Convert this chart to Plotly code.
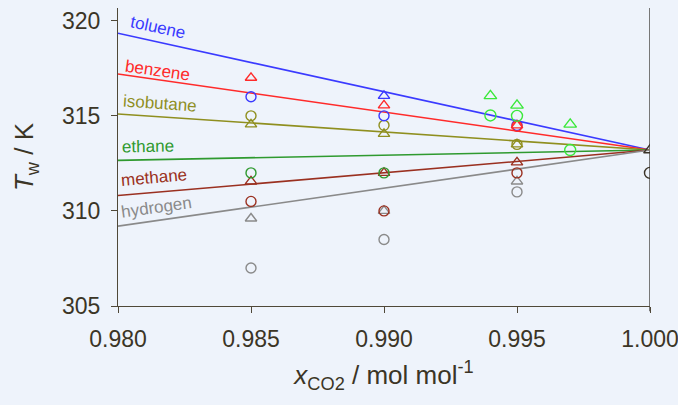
import plotly.graph_objects as go

# ---------------- data ----------------
gases = ["toluene", "benzene", "isobutane", "ethane", "methane", "hydrogen"]
line_colors = ["#3a3aff", "#ff2a2a", "#8f8f1f", "#2f9a2f", "#9a3020", "#8a8a8a"]
line_x = [0.980, 1.000]
line_start = [319.34, 317.2, 315.1, 312.66, 310.81, 309.2]
line_end = [313.2, 313.2, 313.2, 313.2, 313.2, 313.2]

# label positions (data coords) and rotation
label_x = [0.98150, 0.98147, 0.98156, 0.98112, 0.98137, 0.98143]
label_y = [319.62, 317.41, 315.63, 313.40, 311.75, 310.18]
label_angle = [12, 8, 4, -1, -5, -8]

# circle measurements per gas
circ_x = {
    "toluene": [0.985, 0.990, 0.995],
    "benzene": [0.995],
    "isobutane": [0.985, 0.990, 0.995],
    "ethane": [0.985, 0.990],
    "methane": [0.985, 0.990, 0.995],
    "hydrogen": [0.985, 0.990, 0.995],
}
circ_y = {
    "toluene": [316.0, 315.0, 314.5],
    "benzene": [314.45],
    "isobutane": [315.0, 314.5, 313.5],
    "ethane": [312.0, 312.0],
    "methane": [310.5, 310.0, 312.0],
    "hydrogen": [307.0, 308.5, 311.0],
}
# triangle measurements per gas
tri_x = {
    "toluene": [0.990],
    "benzene": [0.985, 0.990, 0.995],
    "isobutane": [0.985, 0.990, 0.995],
    "ethane": [],
    "methane": [0.985, 0.990, 0.995],
    "hydrogen": [0.985, 0.990, 0.995],
}
tri_y = {
    "toluene": [316.05],
    "benzene": [317.0, 315.55, 314.5],
    "isobutane": [314.55, 314.05, 313.5],
    "ethane": [],
    "methane": [311.55, 312.0, 312.55],
    "hydrogen": [309.6, 310.0, 311.55],
}
# additional (lime) data set
lime_circ_x = [0.994, 0.995, 0.997]
lime_circ_y = [315.02, 315.0, 313.2]
lime_tri_x = [0.994, 0.995, 0.997]
lime_tri_y = [316.05, 315.55, 314.55]
lime_color = "#3ae83a"

# pure CO2
pure_x = [1.000]
pure_circ_y = [312.0]
pure_tri_y = [313.2]
pure_color = "#3a3328"

x_ticks = [0.980, 0.985, 0.990, 0.995, 1.000]
x_tick_text = ["0.980", "0.985", "0.990", "0.995", "1.000"]
y_ticks = [305, 310, 315, 320]
x_range = [0.980, 1.000]
y_range = [305, 320.67]

# ---------------- figure ----------------
fig = go.Figure()
bg = "#eef3fb"
axis_col = "#3b3526"
line_col = "#4f4838"
font_fam = "Liberation Sans, Arial, sans-serif"

for g, c, y0, y1 in zip(gases, line_colors, line_start, line_end):
    fig.add_trace(go.Scatter(x=line_x, y=[y0, y1], mode="lines",
                             line=dict(color=c, width=1.6), hoverinfo="skip"))

msize = 10
mw = 1.4
order = ["hydrogen", "methane", "ethane", "isobutane", "toluene", "benzene"]
for g in order:
    c = line_colors[gases.index(g)]
    if circ_x[g]:
        fig.add_trace(go.Scatter(x=circ_x[g], y=circ_y[g], mode="markers",
                                 marker=dict(symbol="circle-open", size=msize,
                                             line=dict(color=c, width=mw), color=c)))
    if tri_x[g]:
        fig.add_trace(go.Scatter(x=tri_x[g], y=tri_y[g], mode="markers",
                                 marker=dict(symbol="triangle-up-open", size=msize,
                                             line=dict(color=c, width=mw), color=c)))

fig.add_trace(go.Scatter(x=lime_circ_x, y=lime_circ_y, mode="markers",
                         marker=dict(symbol="circle-open", size=msize + 1,
                                     line=dict(color=lime_color, width=mw), color=lime_color)))
fig.add_trace(go.Scatter(x=lime_tri_x, y=lime_tri_y, mode="markers",
                         marker=dict(symbol="triangle-up-open", size=msize + 1,
                                     line=dict(color=lime_color, width=mw), color=lime_color)))

# pure CO2 vertical reference line
fig.add_shape(type="line", xref="x", yref="paper", x0=pure_x[0], x1=pure_x[0],
              y0=-0.018, y1=1, line=dict(color="#777777", width=2), layer="below")
# small extension of the left axis below the x axis
fig.add_shape(type="line", xref="x", yref="paper", x0=x_range[0], x1=x_range[0],
              y0=-0.018, y1=0, line=dict(color=line_col, width=1.2), layer="below")

fig.add_trace(go.Scatter(x=pure_x, y=pure_circ_y, mode="markers",
                         marker=dict(symbol="circle-open", size=msize + 1,
                                     line=dict(color=pure_color, width=mw), color=pure_color)))
fig.add_trace(go.Scatter(x=pure_x, y=pure_tri_y, mode="markers",
                         marker=dict(symbol="triangle-up-open", size=msize + 1,
                                     line=dict(color=pure_color, width=mw), color=pure_color)))

for g, c, lx, ly, a in zip(gases, line_colors, label_x, label_y, label_angle):
    fig.add_annotation(x=lx, y=ly, text=g, showarrow=False, textangle=a,
                       font=dict(color=c, size=17, family=font_fam),
                       xanchor="center", yanchor="middle")

fig.update_layout(
    width=678, height=405,
    margin=dict(l=118, r=28, t=8, b=99),
    paper_bgcolor=bg, plot_bgcolor=bg,
    showlegend=False,
    font=dict(family=font_fam, color=axis_col),
)
fig.update_xaxes(
    range=x_range, tickvals=x_ticks, ticktext=x_tick_text, automargin=False,
    ticklabeloverflow="allow",
    showgrid=False, zeroline=False, showline=True, linecolor=line_col, linewidth=1.2,
    ticks="outside", ticklen=6, tickcolor=line_col,
    tickfont=dict(size=23, color=axis_col), ticklabelstandoff=6,
    title=dict(text="<i>x</i><sub>CO2</sub> / mol mol<sup>-1</sup>",
               font=dict(size=26, color=axis_col), standoff=15),
)
fig.update_yaxes(
    range=y_range, tickvals=y_ticks, automargin=False,
    ticklabeloverflow="allow",
    showgrid=False, zeroline=False, showline=True, linecolor=line_col, linewidth=1.2,
    ticks="outside", ticklen=6, tickcolor=line_col,
    tickfont=dict(size=23, color=axis_col), ticklabelstandoff=6,
    title=dict(text="<i>T</i><sub>w</sub> / K", font=dict(size=26, color=axis_col), standoff=20),
)

fig.write_html(
    "out.html",
    config={"displayModeBar": False},
    post_script="document.body.style.margin='0';document.body.style.background='%s';" % bg,
)
